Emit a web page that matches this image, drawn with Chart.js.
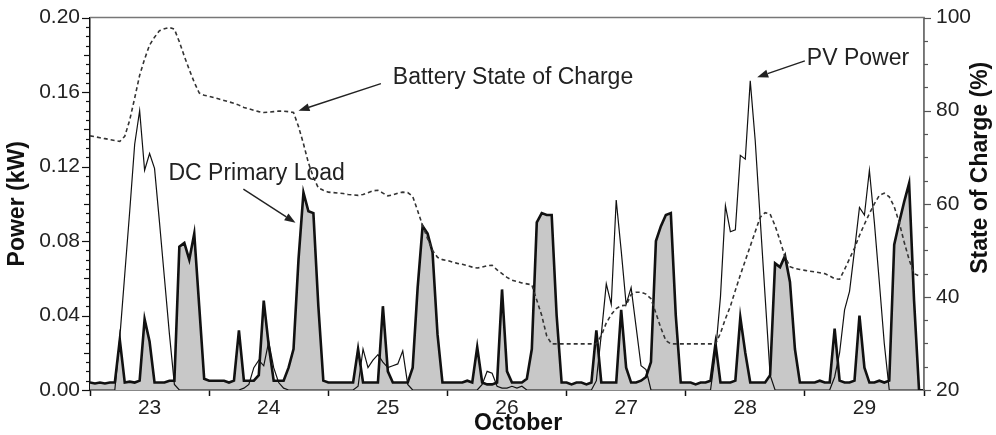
<!DOCTYPE html>
<html>
<head>
<meta charset="utf-8">
<script src="https://cdn.jsdelivr.net/npm/chart.js@4.4.1/dist/chart.umd.min.js"></script>
<style>
  html, body { margin: 0; padding: 0; background: #fff; }
</style>
</head>
<body>
<canvas id="chart" width="996" height="435"></canvas>
<script>
// hourly samples, Oct 23 00:00 .. Oct 29 23:00 (one row per day)
const days = [23, 24, 25, 26, 27, 28, 29];

const loadKW = [
  0.004, 0.0035, 0.004, 0.0035, 0.004, 0.004, 0.027, 0.004, 0.0045, 0.004, 0.005, 0.038, 0.026, 0.004, 0.004, 0.004, 0.005, 0.005, 0.077, 0.079, 0.070, 0.084, 0.045, 0.006,
  0.005, 0.005, 0.005, 0.005, 0.004, 0.005, 0.032, 0.005, 0.005, 0.005, 0.008, 0.048, 0.024, 0.005, 0.005, 0.005, 0.012, 0.022, 0.070, 0.106, 0.096, 0.095, 0.045, 0.005,
  0.004, 0.004, 0.004, 0.004, 0.004, 0.004, 0.022, 0.004, 0.004, 0.004, 0.004, 0.045, 0.010, 0.004, 0.004, 0.004, 0.004, 0.012, 0.055, 0.088, 0.084, 0.074, 0.030, 0.004,
  0.004, 0.004, 0.004, 0.004, 0.005, 0.004, 0.023, 0.004, 0.003, 0.003, 0.004, 0.054, 0.010, 0.004, 0.004, 0.004, 0.006, 0.022, 0.090, 0.095, 0.094, 0.094, 0.040, 0.004,
  0.004, 0.003, 0.004, 0.004, 0.003, 0.004, 0.032, 0.004, 0.004, 0.004, 0.004, 0.043, 0.012, 0.004, 0.004, 0.005, 0.007, 0.015, 0.080, 0.088, 0.094, 0.095, 0.040, 0.004,
  0.004, 0.004, 0.003, 0.004, 0.004, 0.005, 0.025, 0.004, 0.004, 0.004, 0.005, 0.039, 0.020, 0.004, 0.004, 0.004, 0.004, 0.008, 0.068, 0.066, 0.072, 0.058, 0.022, 0.004,
  0.004, 0.004, 0.004, 0.005, 0.004, 0.004, 0.033, 0.005, 0.004, 0.004, 0.005, 0.040, 0.012, 0.004, 0.004, 0.005, 0.004, 0.005, 0.078, 0.090, 0.101, 0.111, 0.048, 0.000
];

const pvKW = [
  0, 0, 0, 0, 0, 0, 0.028, 0.062, 0.096, 0.132, 0.150, 0.118, 0.127, 0.119, 0.090, 0.060, 0.030, 0.003, 0, 0, 0, 0, 0, 0,
  0, 0, 0, 0, 0, 0, 0, 0.001, 0.003, 0.012, 0.016, 0.013, 0.026, 0.012, 0.004, 0.001, 0, 0, 0, 0, 0, 0, 0, 0,
  0, 0, 0, 0, 0, 0, 0.002, 0.022, 0.012, 0.016, 0.019, 0.015, 0.012, 0.013, 0.014, 0.021, 0.003, 0, 0, 0, 0, 0, 0, 0,
  0, 0, 0, 0, 0, 0, 0, 0.003, 0.010, 0.009, 0.002, 0.001, 0.001, 0.002, 0.001, 0.002, 0, 0, 0, 0, 0, 0, 0, 0,
  0, 0, 0, 0, 0, 0, 0.005, 0.030, 0.057, 0.046, 0.102, 0.075, 0.046, 0.055, 0.034, 0.013, 0.011, 0, 0, 0, 0, 0, 0, 0,
  0, 0, 0, 0, 0, 0, 0.020, 0.050, 0.099, 0.085, 0.086, 0.126, 0.124, 0.166, 0.134, 0.092, 0.050, 0.008, 0, 0, 0, 0, 0, 0,
  0, 0, 0, 0, 0, 0, 0.007, 0.020, 0.043, 0.053, 0.075, 0.098, 0.094, 0.118, 0.090, 0.058, 0.025, 0, 0, 0, 0, 0, 0, 0
];

const socPct = [
  74.6, 74.4, 74.2, 74.0, 73.8, 73.6, 73.4, 74.5, 78.0, 82.7, 87.6, 91.1, 94.1, 95.8, 97.2, 97.6, 97.9, 97.5, 94.8, 91.7, 88.8, 86.1, 83.8, 83.3,
  83.1, 82.8, 82.5, 82.2, 81.9, 81.6, 81.2, 80.7, 80.4, 80.1, 79.8, 79.6, 79.7, 79.8, 79.9, 79.9, 79.8, 79.6, 76.6, 72.9, 68.8, 65.7, 63.4, 62.9,
  62.5, 62.4, 62.3, 62.2, 62.0, 61.9, 61.8, 62.0, 62.4, 62.8, 62.9, 62.3, 61.7, 61.9, 62.3, 62.5, 62.4, 61.6, 58.5, 55.3, 52.5, 50.0, 48.5, 48.0,
  47.8, 47.5, 47.2, 47.0, 46.7, 46.4, 46.2, 46.4, 46.7, 46.8, 45.8, 45.0, 44.2, 43.6, 43.3, 43.0, 42.8, 42.6, 39.3, 36.0, 31.6, 29.9, 29.9, 29.9,
  29.9, 29.9, 29.9, 29.9, 29.9, 29.9, 29.9, 31.7, 34.4, 36.2, 37.5, 38.1, 38.2, 40.5, 41.0, 41.0, 40.6, 39.6, 36.5, 33.3, 30.6, 29.9, 29.9, 29.9,
  29.9, 29.9, 29.9, 29.9, 29.9, 29.9, 29.9, 32.2, 35.3, 38.0, 41.4, 44.7, 47.8, 50.9, 54.0, 57.1, 58.1, 57.8, 55.3, 52.1, 48.6, 46.5, 46.1, 45.9,
  45.7, 45.5, 45.4, 45.2, 45.0, 44.5, 43.9, 43.8, 45.9, 48.2, 50.5, 53.2, 55.6, 57.9, 60.0, 61.8, 62.3, 61.5, 59.4, 56.0, 51.8, 48.0, 45.0, 44.5
];

// text callouts, in data units (hour, kW)
const notes = [
  { text: "Battery State of Charge", at: [61.0, 0.168], from: [58.6, 0.1645], to: [42.0, 0.150] },
  { text: "DC Primary Load", at: [15.8, 0.1162], from: [30.9, 0.1079], to: [41.4, 0.0898] },
  { text: "PV Power", at: [144.4, 0.1777], from: [144.0, 0.1768], to: [134.4, 0.168] }
];

const FONT = '"Liberation Sans", Arial, Helvetica, sans-serif';
Chart.defaults.font.family = FONT;
Chart.defaults.color = '#222';

const pts = arr => arr.map((v, i) => ({ x: i, y: v }));
const none = 'rgba(0,0,0,0)';

function arrow(ctx, x1, y1, x2, y2) {
  const ang = Math.atan2(y2 - y1, x2 - x1);
  const len = 11, half = 4;
  const bx = x2 - len * Math.cos(ang), by = y2 - len * Math.sin(ang);
  ctx.beginPath();
  ctx.moveTo(x1, y1);
  ctx.lineTo(bx, by);
  ctx.stroke();
  ctx.beginPath();
  ctx.moveTo(x2, y2);
  ctx.lineTo(bx + half * Math.sin(ang), by - half * Math.cos(ang));
  ctx.lineTo(bx - half * Math.sin(ang), by + half * Math.cos(ang));
  ctx.closePath();
  ctx.fill();
}

const decor = {
  id: 'decor',
  afterDraw(chart) {
    const { ctx, chartArea: a, scales } = chart;
    const { x, y, y2 } = scales;
    ctx.save();

    // top and right frame
    ctx.strokeStyle = '#777';
    ctx.lineWidth = 1.5;
    ctx.beginPath();
    ctx.moveTo(a.left, a.top);
    ctx.lineTo(a.right, a.top);
    ctx.lineTo(a.right, a.bottom);
    ctx.stroke();

    // y tick marks: long at labels, medium, short
    ctx.lineWidth = 1.2;
    ctx.strokeStyle = '#111';
    y.ticks.forEach(t => {
      const k = Math.round(t.value * 1000);
      const len = k % 40 === 0 ? 8 : (k % 20 === 0 ? 6 : 4);
      const py = Math.round(y.getPixelForValue(t.value)) + 0.5;
      ctx.beginPath(); ctx.moveTo(a.left - len, py); ctx.lineTo(a.left, py); ctx.stroke();
    });
    ctx.strokeStyle = '#555';
    y2.ticks.forEach(t => {
      const len = t.value % 20 === 0 ? 7 : 4;
      const py = Math.round(y2.getPixelForValue(t.value)) + 0.5;
      ctx.beginPath(); ctx.moveTo(a.right, py); ctx.lineTo(a.right + len, py); ctx.stroke();
    });

    // callouts
    ctx.font = '23px ' + FONT;
    ctx.fillStyle = '#222';
    ctx.strokeStyle = '#222';
    ctx.lineWidth = 1.4;
    ctx.textAlign = 'left';
    ctx.textBaseline = 'middle';
    notes.forEach(n => {
      ctx.fillText(n.text, x.getPixelForValue(n.at[0]), y.getPixelForValue(n.at[1]));
      arrow(ctx, x.getPixelForValue(n.from[0]), y.getPixelForValue(n.from[1]),
                 x.getPixelForValue(n.to[0]), y.getPixelForValue(n.to[1]));
    });

    // axis titles
    const midY = (a.top + a.bottom) / 2;
    ctx.font = 'bold 23px ' + FONT;
    ctx.fillStyle = '#111';
    ctx.textAlign = 'center';
    ctx.fillText('October', (a.left + a.right) / 2 + 11, 424);
    ctx.save();
    ctx.translate(18, midY);
    ctx.rotate(-Math.PI / 2);
    ctx.fillText('Power (kW)', 0, 0);
    ctx.restore();
    ctx.save();
    ctx.translate(981, midY - 36);
    ctx.rotate(-Math.PI / 2);
    ctx.fillText('State of Charge (%)', 0, 0);
    ctx.restore();

    ctx.restore();
  }
};

new Chart(document.getElementById('chart'), {
  type: 'line',
  data: {
    datasets: [
      {
        label: 'Battery State of Charge',
        data: pts(socPct),
        yAxisID: 'y2',
        borderColor: '#333',
        borderWidth: 1.6,
        borderDash: [4, 3],
        fill: false,
        pointRadius: 0,
        order: 0
      },
      {
        label: 'PV Power',
        data: pts(pvKW),
        yAxisID: 'y',
        borderColor: '#111',
        borderWidth: 1.2,
        fill: false,
        pointRadius: 0,
        order: 1
      },
      {
        label: 'DC Primary Load',
        data: pts(loadKW),
        yAxisID: 'y',
        borderColor: '#111',
        borderWidth: 2.6,
        backgroundColor: '#c8c8c8',
        fill: 'origin',
        pointRadius: 0,
        order: 2
      }
    ]
  },
  options: {
    responsive: false,
    animation: false,
    devicePixelRatio: 1,
    layout: { padding: { top: 13, left: 0, right: 0, bottom: 0 } },
    plugins: { legend: { display: false }, tooltip: { enabled: false } },
    elements: { line: { tension: 0 } },
    scales: {
      x: {
        type: 'linear',
        min: 0,
        max: 168,
        afterFit: s => { s.height = 45; },
        border: { color: '#111', width: 1.5 },
        grid: {
          drawOnChartArea: false,
          tickLength: 6,
          tickWidth: 1.5,
          tickColor: c => (c.tick && c.tick.value % 24 === 0) ? '#111' : none
        },
        ticks: {
          stepSize: 12,
          autoSkip: false,
          maxRotation: 0,
          padding: 0,
          color: '#222',
          font: { size: 21 },
          callback: v => (v % 24 === 12) ? String(days[(v - 12) / 24]) : ''
        }
      },
      y: {
        position: 'left',
        min: 0,
        max: 0.2,
        afterFit: s => { s.width = 90; },
        border: { color: '#111', width: 1.5 },
        grid: { drawOnChartArea: false, tickLength: 8, tickColor: none },
        ticks: {
          stepSize: 0.005,
          maxTicksLimit: 1000,
          autoSkip: false,
          padding: 2,
          color: '#222',
          font: { size: 21 },
          callback: v => {
            const k = Math.round(v * 1000);
            return k % 40 === 0 ? (k / 1000).toFixed(2) : '';
          }
        }
      },
      y2: {
        position: 'right',
        min: 20,
        max: 100,
        afterFit: s => { s.width = 72; },
        border: { color: '#666', width: 1.5 },
        grid: { drawOnChartArea: false, tickLength: 7, tickColor: none },
        ticks: {
          stepSize: 5,
          maxTicksLimit: 1000,
          autoSkip: false,
          padding: 5,
          color: '#222',
          font: { size: 21 },
          callback: v => (v % 20 === 0) ? String(v) : ''
        }
      }
    }
  },
  plugins: [decor]
});
</script>
</body>
</html>
